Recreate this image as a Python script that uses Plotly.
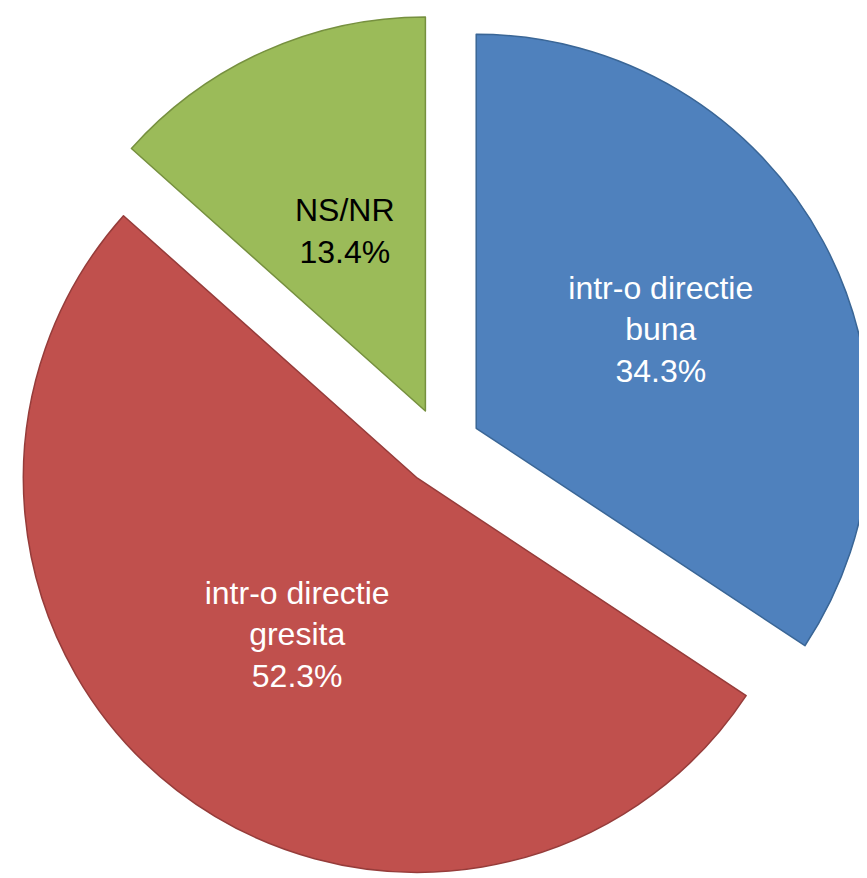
import math
import plotly.graph_objects as go

labels = ["intr-o directie<br>buna", "intr-o directie<br>gresita", "NS/NR"]
values = [34.3, 52.3, 13.4]
colors = ["#4F81BD", "#C0504D", "#9BBB59"]
edge_colors = ["#3A6696", "#963C3A", "#76903F"]
text_colors = ["white", "white", "black"]
# slices whose label plotly places itself; others are placed at mid-radius
auto_label = [True, True, False]

W, H = 867, 878
PULL = 0.1
FONT = dict(family="Liberation Sans, Arial, sans-serif", size=32)

slice_text = [f"{l}<br>{v:.1f}%" if a else "" for l, v, a in zip(labels, values, auto_label)]

fig = go.Figure(go.Pie(
    labels=labels,
    values=values,
    text=slice_text,
    sort=False,
    direction="clockwise",
    rotation=0,
    pull=[PULL] * len(values),
    marker=dict(colors=colors, line=dict(color=edge_colors, width=1.5)),
    texttemplate="%{text}",
    textposition="inside",
    insidetextorientation="horizontal",
    insidetextfont=dict(**FONT, color=text_colors),
    hoverinfo="label+percent",
    showlegend=False,
))

# labels for slices placed at half radius along the slice bisector (as in the original)
r = min(W, H) / 2 / (1 + PULL)
cx, cy = W / 2, H / 2
total = sum(values)
cum = 0.0
annotations = []
for l, v, a, tc in zip(labels, values, auto_label, text_colors):
    mid = (cum + v / 2) / total * 2 * math.pi
    cum += v
    if a:
        continue
    d = PULL * r + 0.5 * r
    px = cx + d * math.sin(mid)
    py = cy + d * math.cos(mid)
    annotations.append(dict(
        x=px / W, y=py / H, xref="paper", yref="paper",
        text=f"{l}<br>{v:.1f}%", showarrow=False,
        xanchor="center", yanchor="middle",
        font=dict(**FONT, color=tc),
    ))

fig.update_layout(
    width=W,
    height=H,
    margin=dict(l=0, r=0, t=0, b=0),
    paper_bgcolor="white",
    plot_bgcolor="white",
    uniformtext=dict(minsize=32, mode="show"),
    annotations=annotations,
)

fig.write_html("out.html")
